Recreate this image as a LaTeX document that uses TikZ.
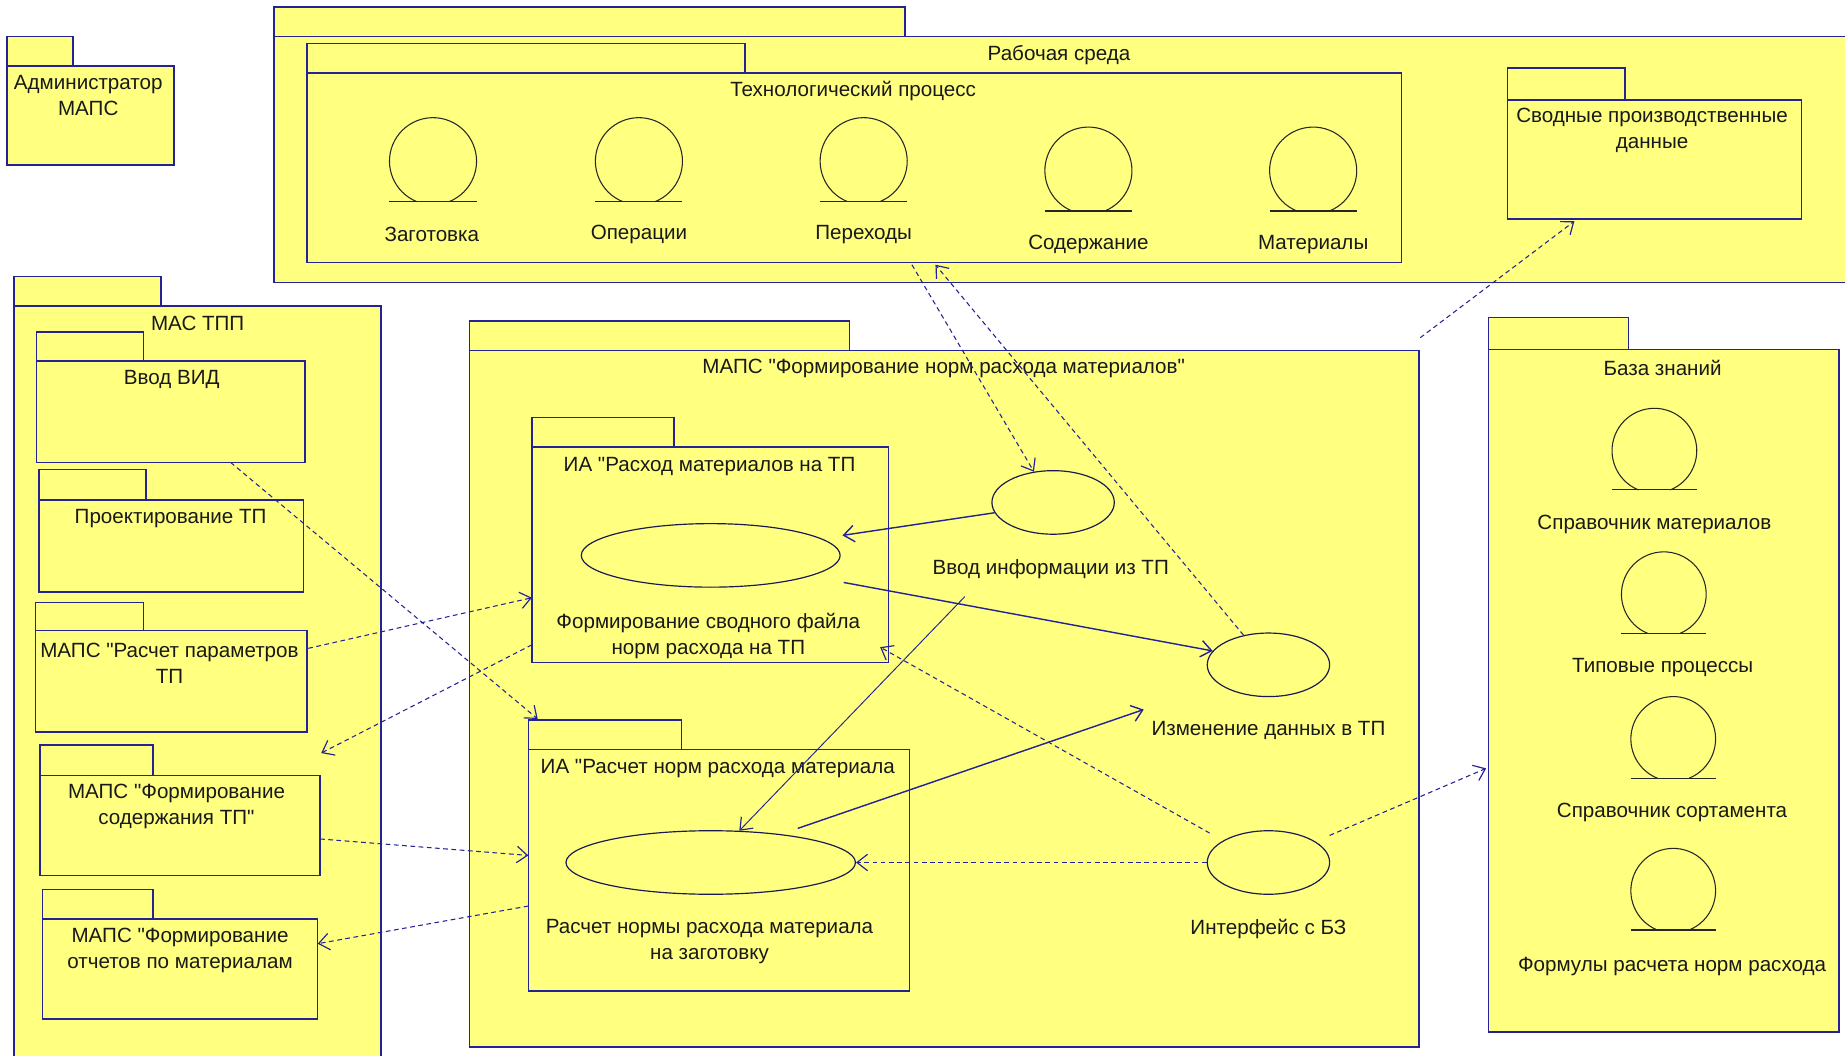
\documentclass[tikz,border=0pt]{standalone}
\usepackage{fontspec}
\setmainfont{Liberation Sans}[Ligatures=TeXOff]
\usetikzlibrary{arrows.meta,shapes.geometric,fit}
\definecolor{pfill}{RGB}{255,255,128}
\definecolor{pline}{RGB}{35,35,150}
\definecolor{uline}{RGB}{25,25,80}
\tikzset{
 tabbox/.style={draw=pline, fill=pfill, line width=1.3pt},
 pbody/.style={draw=pline, fill=pfill, line width=1.3pt, inner sep=0pt, rectangle},
 lbl/.style={font=\fontsize{17.5}{22}\selectfont, inner sep=0pt, align=center, text=black!90, yshift=-1.5pt},
 uc/.style={ellipse, draw=uline, fill=pfill, line width=1pt, inner sep=0pt},
 ent/.style={draw=black!85, line width=0.9pt},
 dep/.style={draw=pline, line width=0.9pt, dash pattern=on 4pt off 3pt, -{Straight Barb[length=9pt,width=14pt,line width=1pt]}},
 assoc/.style={draw=pline, line width=1.2pt, -{Straight Barb[length=9pt,width=14pt]}},
 thinassoc/.style={draw=pline, line width=0.8pt, -{Straight Barb[length=9pt,width=14pt,line width=1pt]}},
}
\newcommand\umlpkg[7]{%
  \draw[tabbox] (#2,#3) rectangle (#4,#5);
  \node[pbody, fit={(#2,#5) (#6,#7)}] (#1) {};
}
\newcommand\entity[4]{%
  \coordinate (#1) at (#2,#3);
  \draw[ent] (#1) ++(112:#4) arc[start angle=112, end angle=428, radius=#4];
  \draw[ent] ({#2-#4},{#3+0.927*#4}) -- ({#2+#4},{#3+0.927*#4});
}
\begin{document}
\begin{tikzpicture}[x=1pt,y=-1pt]
\path[use as bounding box, fill=white] (0,0) rectangle (1568,897);

% Администратор МАПС
\umlpkg{admin}{6}{31}{62}{56}{148}{140}
\node[lbl] (adminlbl) at (75,80) {Администратор\\МАПС};

% Рабочая среда
\umlpkg{rs}{233}{6}{769}{31}{1580}{240}
\node[lbl] (rslbl) at (900,45) {Рабочая среда};
\umlpkg{tp}{261}{37}{633}{62}{1191}{223}
\node[lbl] (tplbl) at (725,76) {Технологический процесс};
\entity{zag}{368}{137}{37}
\node[lbl] (zaglbl) at (367,198) {Заготовка};
\entity{oper}{543}{137}{37}
\node[lbl] (operlbl) at (543,198) {Операции};
\entity{per}{734}{137}{37}
\node[lbl] (perlbl) at (734,198) {Переходы};
\entity{sod}{925}{145}{37}
\node[lbl] (sodlbl) at (925,206) {Содержание};
\entity{mat}{1116}{145}{37}
\node[lbl] (matlbl) at (1116,206) {Материалы};
\umlpkg{svod}{1281}{58}{1381}{85}{1531}{186}
\node[lbl] (svodlbl) at (1404,109) {Сводные производственные\\данные};

% МАС ТПП
\umlpkg{mas}{12}{235}{137}{260}{324}{910}
\node[lbl] (maslbl) at (168,273) {МАС ТПП};
\umlpkg{vvod}{31}{282}{122}{307}{259}{393}
\node[lbl] (vvodlbl) at (146,321) {Ввод ВИД};
\umlpkg{proekt}{33}{399}{124}{425}{258}{503}
\node[lbl] (proektlbl) at (145,439) {Проектирование ТП};
\umlpkg{rpar}{30}{512}{122}{536}{261}{622}
\node[lbl] (rparlbl) at (144,562) {МАПС "Расчет параметров\\ТП};
\umlpkg{fsod}{34}{633}{130}{659}{272}{744}
\node[lbl] (fsodlbl) at (150,684) {МАПС "Формирование\\содержания ТП"};
\umlpkg{fotch}{36}{756}{130}{781}{270}{866}
\node[lbl] (fotchlbl) at (153,806) {МАПС "Формирование\\отчетов по материалам};

% МАПС "Формирование норм расхода материалов"
\umlpkg{fnrm}{399}{273}{722}{298}{1206}{890}
\node[lbl] (fnrmlbl) at (802,312) {МАПС "Формирование норм расхода материалов"};
\umlpkg{iarash}{452}{355}{573}{380}{755}{563}
\node[lbl] (iarashlbl) at (603,395) {ИА "Расход материалов на ТП};
\node[uc, minimum width=220pt, minimum height=54pt] (svf) at (604,472) {};
\node[lbl] (svflbl) at (602,539) {Формирование сводного файла\\норм расхода на ТП};
\umlpkg{iarasch}{449}{612}{579}{637}{773}{842}
\node[lbl] (iaraschlbl) at (610,652) {ИА "Расчет норм расхода материала};
\node[uc, minimum width=246pt, minimum height=54pt] (rnr) at (604,733) {};
\node[lbl] (rnrlbl) at (603,799) {Расчет нормы расхода материала\\на заготовку};
\node[uc, minimum width=104pt, minimum height=54pt] (vinf) at (895,427) {};
\node[lbl] (vinflbl) at (893,482) {Ввод информации из ТП};
\node[uc, minimum width=104pt, minimum height=54pt] (izm) at (1078,565) {};
\node[lbl] (izmlbl) at (1078,619) {Изменение данных в ТП};
\node[uc, minimum width=104pt, minimum height=54pt] (intf) at (1078,733) {};
\node[lbl] (intflbl) at (1078,788) {Интерфейс с БЗ};

% База знаний
\umlpkg{bz}{1265}{270}{1384}{297}{1563}{877}
\node[lbl] (bzlbl) at (1413,311) {База знаний};
\entity{sprm}{1406}{383}{36}
\node[lbl] (sprmlbl) at (1406,444) {Справочник материалов};
\entity{tipp}{1414}{505}{36}
\node[lbl] (tipplbl) at (1413,566) {Типовые процессы};
\entity{sprs}{1422}{628}{36}
\node[lbl] (sprslbl) at (1421,689) {Справочник сортамента};
\entity{form}{1422}{757}{36}
\node[lbl] (formlbl) at (1421,820) {Формулы расчета норм расхода};

% connector end points
\coordinate (a0) at (196,393);  \coordinate (a1) at (457,611);
\coordinate (b0) at (262,551);  \coordinate (b1) at (452,508);
\coordinate (c0) at (452,548);  \coordinate (c1) at (273,640);
\coordinate (d0) at (272,713);  \coordinate (d1) at (449,727);
\coordinate (e0) at (449,770);  \coordinate (e1) at (270,802);
\coordinate (f0) at (775,225);
\coordinate (g1) at (795,225);
\coordinate (h0) at (1207,287); \coordinate (h1) at (1338,188);
\coordinate (i1) at (716,455);
\coordinate (j0) at (717,495);
\coordinate (k0) at (820,507);
\coordinate (l0) at (678,704);  \coordinate (l1) at (972,603);
\coordinate (m0) at (1028,708); \coordinate (m1) at (748,550);
\coordinate (o0) at (1130,710); \coordinate (o1) at (1263,653);

% dependencies
\draw[dep] (a0) -- (a1);
\draw[dep] (b0) -- (b1);
\draw[dep] (c0) -- (c1);
\draw[dep] (d0) -- (d1);
\draw[dep] (e0) -- (e1);
\draw[dep] (f0) -- (vinf.122);
\draw[dep] (izm.130) -- (g1);
\draw[dep] (h0) -- (h1);
\draw[dep] (m0) -- (m1);
\draw[dep] (intf.west) -- (rnr.east);
\draw[dep] (o0) -- (o1);
% associations
\draw[assoc] (vinf.190) -- (i1);
\draw[assoc] (j0) -- (izm.166);
\draw[thinassoc] (k0) -- (rnr.48);
\draw[assoc] (l0) -- (l1);
\end{tikzpicture}
\end{document}
